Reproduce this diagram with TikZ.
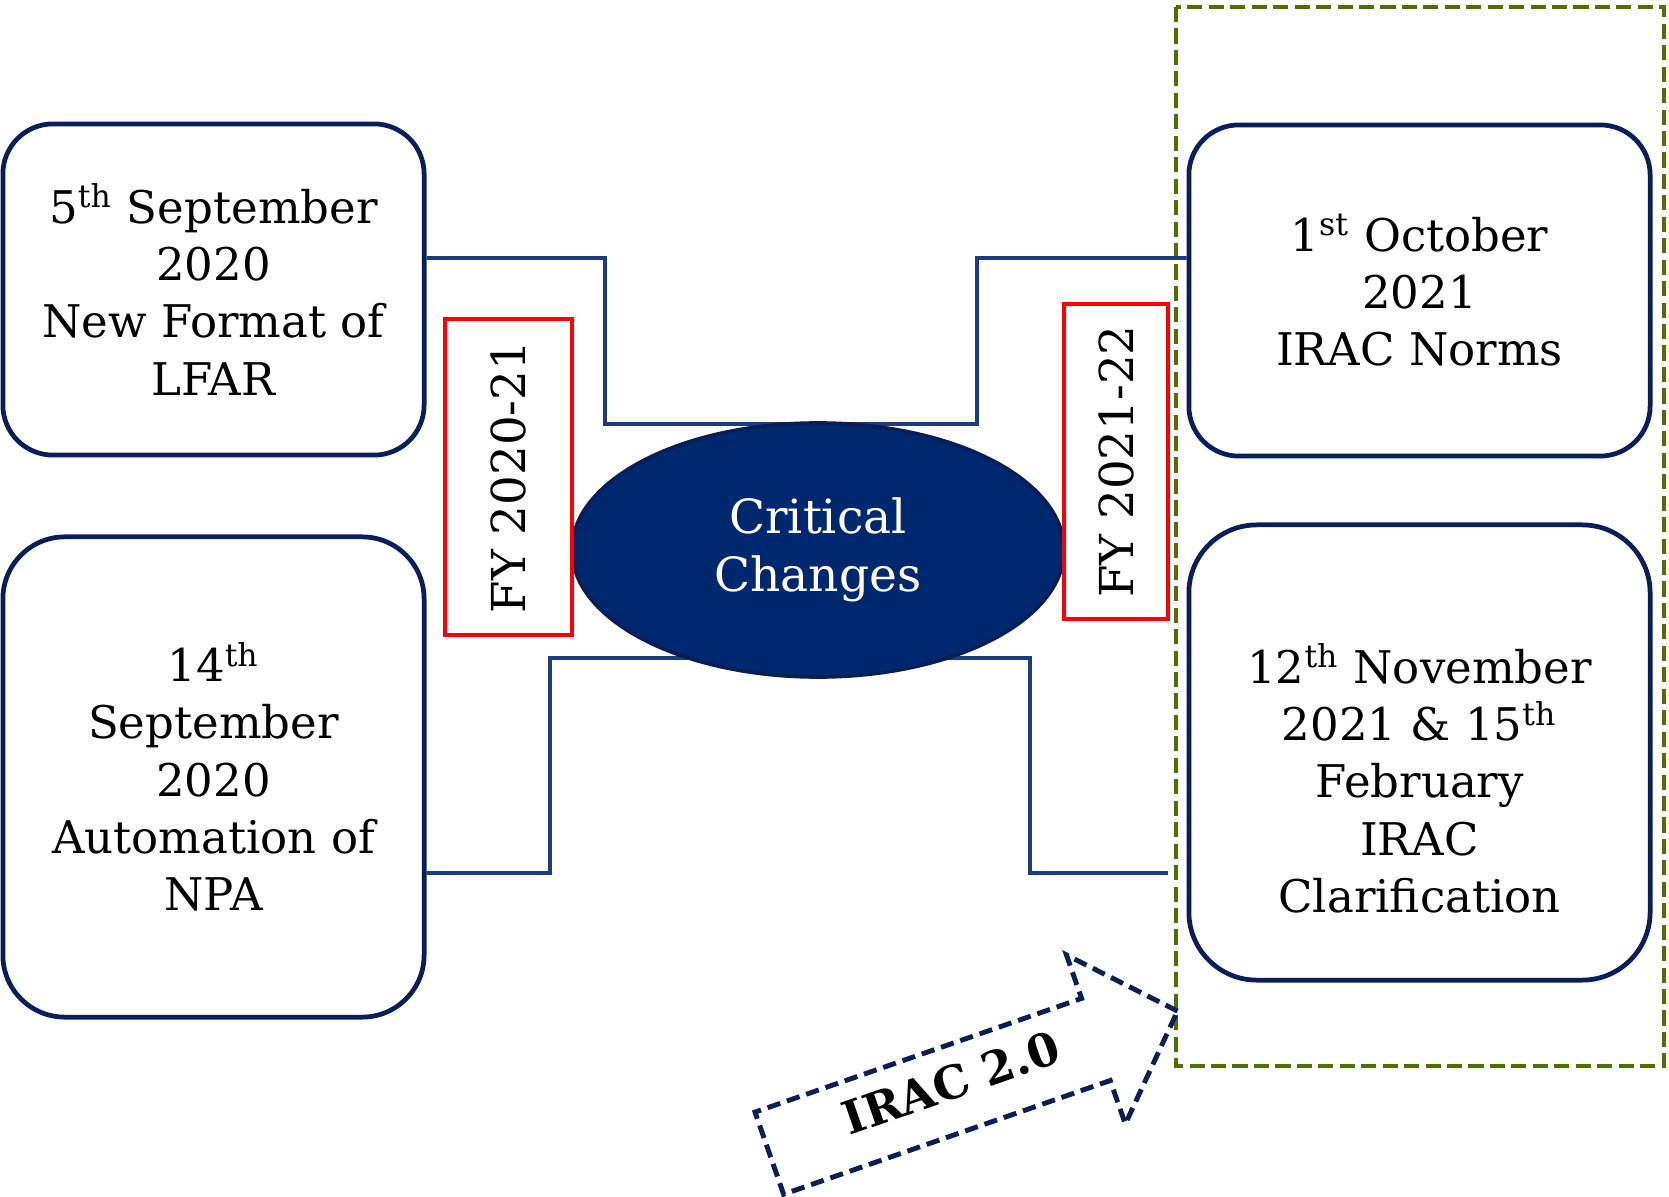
\documentclass[tikz,border=0pt]{standalone}
\usepackage{fontspec}
\setmainfont{DejaVu Serif}
\usetikzlibrary{shapes.geometric,shapes.arrows,backgrounds}
\definecolor{boxnavy}{HTML}{0B1E5B}
\definecolor{linkblue}{HTML}{1F3B7F}
\definecolor{critfill}{HTML}{00286E}
\definecolor{critline}{HTML}{0A1E55}
\definecolor{olive}{HTML}{4F6F00}
\definecolor{arrownavy}{HTML}{0D1F4F}
\begin{document}
\begin{tikzpicture}[x=0.01cm,y=-0.01cm,
  datebox/.style={draw=boxnavy, fill=white, line width=1.35pt, align=center, inner sep=0pt,
    font=\fontsize{12.8}{16.3}\selectfont},
  fybox/.style={draw=red, line width=1.3pt, rotate=90, inner sep=0pt,
    font=\fontsize{13.3}{16.3}\selectfont},
  link/.style={draw=linkblue, line width=1.05pt}]
\useasboundingbox (0,0) rectangle (1669,1197);
\node[datebox, rounded corners=0.5cm, minimum width=4.21cm, minimum height=3.31cm] (lfar) at (213.5,289.5) {5\textsuperscript{th} September\\2020\\New Format of\\LFAR};
\node[datebox, rounded corners=0.62cm, minimum width=4.21cm, minimum height=4.8cm] (npa) at (213.5,777) {14\textsuperscript{th}\\September\\2020\\Automation of\\NPA};
\node[datebox, rounded corners=0.5cm, minimum width=4.61cm, minimum height=3.31cm] (norms) at (1419.5,290.5) {1\textsuperscript{st} October\\2021\\IRAC Norms};
\node[datebox, rounded corners=0.68cm, minimum width=4.61cm, minimum height=4.55cm] (clar) at (1419.5,752.5) {\rule{0pt}{26pt}12\textsuperscript{th} November\\2021 \& 15\textsuperscript{th}\\February\\IRAC\\Clarification};
\node[ellipse, fill=critfill, draw=critline, line width=1pt, minimum width=4.92cm, minimum height=2.54cm, text=white, align=center, font=\fontsize{13.4}{16.6}\selectfont] (crit) at (818,550) {Critical\\Changes};
\node[fybox, minimum width=3.16cm, minimum height=1.27cm] (fy1) at (508.5,477) {FY 2020-21};
\node[fybox, minimum width=3.15cm, minimum height=1.04cm] (fy2) at (1116,461.5) {FY 2021-22};
\coordinate (clarin) at (1168,873);
\begin{scope}[on background layer]
\draw[olive, line width=1.1pt, dash pattern=on 4.3pt off 1.8pt] (1176,7) rectangle (1664,1066);
\draw[link] ([yshift=3.15mm]lfar.east) -| (605,424) -| (977,258) -- ([yshift=3.25mm]norms.west);
\draw[link] ([yshift=-10.8mm]crit.center) -- (550,658) |- ([yshift=-9.6mm]npa.east);
\draw[link] ([yshift=-10.8mm]crit.center) -| (1030,873) -- (clarin);
\end{scope}
\node[single arrow, draw=arrownavy, line width=1.4pt, dash pattern=on 3.8pt off 2pt, rotate=19.2, anchor=tail,
  single arrow head extend=0.46cm, single arrow tip angle=92, minimum height=4.32cm,
  text height=0.3cm, text depth=0.1cm, inner ysep=0.21cm, font=\fontsize{13}{15}\selectfont\bfseries] (irac) at (767,1154) {IRAC 2.0};
\end{tikzpicture}
\end{document}
